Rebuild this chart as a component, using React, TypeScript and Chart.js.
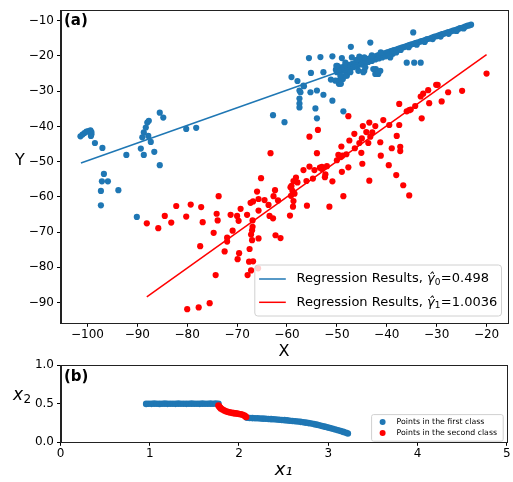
import React, { useEffect, useRef } from 'react';
import { Chart, registerables } from 'chart.js';

Chart.register(...registerables);

const FONT = "'DejaVu Sans', sans-serif";
const BLUE = '#1f77b4';
const RED = '#ff0000';

// ---------- Panel (a) data ----------
const blueScatter: [number, number][] = [
  [-101.4, -42.8], [-101.0, -42.3], [-100.6, -41.9], [-100.2, -41.5], [-99.8, -41.3], [-99.4, -41.1],
  [-99.2, -41.6], [-99.2, -42.2], [-99.3, -42.7], [-98.5, -44.7], [-97.0, -46.1], [-92.2, -48.1],
  [-89.3, -46.3], [-88.7, -48.1], [-89.0, -43.1], [-88.7, -41.7], [-88.3, -40.3], [-88.0, -38.9],
  [-87.7, -38.4], [-87.8, -42.7], [-87.3, -44.4], [-86.6, -47.2], [-85.5, -51.0], [-85.5, -36.1],
  [-84.8, -37.5], [-80.2, -40.7], [-78.2, -40.4], [-96.7, -53.5], [-97.1, -55.6], [-95.9, -55.6],
  [-97.3, -58.3], [-93.8, -58.1], [-97.3, -62.4], [-90.1, -65.7], [-62.8, -36.8], [-60.5, -38.8],
  [-59.1, -26.0], [-57.9, -27.1], [-56.6, -28.6], [-57.5, -29.8], [-57.3, -30.3], [-57.5, -32.1],
  [-57.5, -33.5], [-57.5, -34.6], [-55.3, -30.3], [-54.0, -29.8], [-52.7, -31.0], [-50.9, -32.7],
  [-54.3, -34.9], [-54.0, -37.7], [-48.7, -35.7], [-55.6, -20.6], [-53.3, -20.3], [-50.9, -20.1],
  [-55.2, -24.8], [-52.7, -24.6], [-47.2, -17.4], [-49.6, -27.9], [-51.2, -26.7], [-48.8, -26.5],
  [-48.0, -25.6], [-49.0, -20.6], [-47.3, -23.2], [-49.9, -22.8], [-48.0, -24.2], [-46.0, -22.8],
  [-44.7, -22.1], [-44.5, -24.2], [-42.2, -23.7], [-41.7, -25.1], [-42.3, -25.1], [-49.5, -24.6],
  [-49.7, -27.0], [-49.2, -27.9], [-48.3, -25.6], [-47.0, -20.4], [-45.5, -20.2], [-50.1, -22.8],
  [-48.3, -21.9], [-46.7, -23.2], [-45.7, -24.2], [-47.3, -24.6], [-49.3, -25.6], [-50.3, -27.0],
  [-43.3, -16.2], [-34.7, -13.3], [-36.0, -21.9], [-34.5, -21.9], [-33.2, -21.9], [-44.7, -24.6],
  [-44.3, -23.2], [-45.0, -22.3], [-42.7, -23.7], [-41.7, -24.6], [-41.3, -24.2], [-39.3, -20.4],
  [-56.7, -28.4],
];

const blueBand: [number, number][] = [
  [-50.2, -23.9], [-49.8, -23.5], [-49.5, -23.7], [-49.1, -23.2], [-48.7, -23.3], [-48.4, -22.8],
  [-48.0, -22.9], [-47.6, -22.5], [-47.3, -22.6], [-46.9, -22.2], [-46.5, -22.2], [-46.2, -21.8],
  [-45.8, -21.9], [-45.4, -21.5], [-45.1, -21.5], [-44.7, -21.2], [-44.3, -21.1], [-44.0, -20.8],
  [-43.6, -20.8], [-43.2, -20.5], [-42.9, -20.4], [-42.5, -20.2], [-42.1, -20.1], [-41.8, -19.8],
  [-41.4, -19.7], [-41.0, -19.5], [-40.7, -19.4], [-40.3, -19.2], [-39.9, -19.0], [-39.6, -18.9],
  [-39.2, -18.6], [-38.8, -18.5], [-38.5, -18.3], [-38.1, -18.2], [-37.7, -18.0], [-37.4, -17.8],
  [-37.0, -17.6], [-36.6, -17.5], [-36.3, -17.3], [-35.9, -17.1], [-35.5, -16.9], [-35.2, -16.8],
  [-34.8, -16.6], [-34.4, -16.4], [-34.1, -16.3], [-33.7, -16.1], [-33.3, -15.9], [-33.0, -15.8],
  [-32.6, -15.6], [-32.2, -15.4], [-31.9, -15.2], [-31.5, -15.1], [-31.1, -14.9], [-30.8, -14.7],
  [-30.4, -14.5], [-30.0, -14.4], [-29.7, -14.2], [-29.3, -14.0], [-28.9, -13.8], [-28.6, -13.7],
  [-28.2, -13.5], [-27.8, -13.3], [-27.5, -13.2], [-27.1, -13.0], [-26.7, -12.8], [-26.4, -12.7],
  [-26.0, -12.5], [-25.6, -12.3], [-25.3, -12.1], [-24.9, -12.0], [-24.5, -11.8], [-24.2, -11.6],
  [-23.8, -11.4], [-23.4, -11.3], [-23.1, -11.1],
  [-50.0, -24.6], [-49.3, -24.4], [-48.6, -24.0], [-47.9, -23.7], [-47.2, -23.4], [-46.5, -23.0],
  [-45.8, -22.6], [-45.1, -22.4], [-44.4, -22.0], [-43.7, -21.7], [-43.0, -21.4], [-42.3, -21.0],
  [-41.6, -20.7], [-40.9, -20.4], [-40.2, -20.1], [-39.5, -19.7], [-38.8, -19.4], [-38.1, -19.0],
  [-46.0, -21.1], [-44.5, -20.4], [-43.0, -19.8], [-41.2, -19.0],
  [-37.2, -18.3], [-35.6, -17.5], [-34.0, -16.8], [-32.4, -16.0], [-30.8, -15.2], [-29.2, -14.5],
  [-27.6, -13.7], [-26.0, -12.9], [-24.6, -12.2],
];

const redScatter: [number, number][] = [
  [-88.1, -67.5], [-85.8, -68.9], [-84.5, -65.4], [-83.2, -67.3], [-82.2, -62.6], [-80.2, -65.6],
  [-79.3, -62.2], [-77.2, -62.9], [-76.9, -67.2], [-77.4, -74.0], [-80.0, -91.9], [-77.7, -91.4],
  [-75.5, -90.2], [-74.3, -82.2], [-74.7, -70.2], [-74.1, -64.8], [-73.7, -59.8], [-73.9, -66.7],
  [-72.5, -75.5], [-72.0, -72.7], [-72.0, -71.6], [-71.3, -65.1], [-70.9, -69.6], [-70.0, -65.4],
  [-69.7, -66.8], [-69.3, -63.4], [-69.9, -77.7], [-69.6, -76.0], [-67.9, -82.2], [-68.0, -65.1],
  [-67.6, -78.4], [-67.5, -74.8], [-67.2, -80.9], [-66.8, -78.3], [-67.3, -61.7], [-66.8, -61.3],
  [-67.2, -70.7], [-67.0, -72.3], [-66.9, -68.5], [-66.9, -66.7], [-66.0, -58.5], [-65.7, -60.6],
  [-65.7, -63.9], [-65.7, -71.8], [-65.2, -54.7], [-65.8, -80.3], [-67.0, -69.5], [-63.3, -47.6],
  [-63.7, -62.3], [-63.5, -65.4], [-62.8, -66.1], [-62.7, -59.8], [-62.4, -58.1], [-61.8, -61.0],
  [-62.3, -70.9], [-61.3, -71.7], [-64.5, -60.9], [-59.4, -65.3], [-59.3, -57.3], [-58.9, -58.3],
  [-58.7, -61.2], [-58.8, -62.8], [-58.2, -54.5], [-57.9, -55.9], [-58.5, -59.1], [-58.7, -55.5],
  [-59.1, -56.9], [-59.2, -59.7], [-56.0, -62.5], [-56.1, -55.5], [-54.8, -54.8], [-56.7, -52.4],
  [-55.5, -51.4], [-54.5, -52.4], [-53.4, -51.7], [-53.0, -51.5], [-52.0, -51.3], [-53.0, -52.1],
  [-52.4, -54.4], [-52.3, -53.6], [-50.9, -55.6], [-51.5, -62.8], [-48.7, -59.8], [-43.5, -55.4],
  [-49.0, -52.9], [-47.7, -51.6], [-44.9, -50.6], [-39.6, -51.0], [-38.1, -53.8], [-36.7, -56.7],
  [-35.5, -59.6], [-50.0, -49.6], [-49.7, -48.1], [-49.2, -48.7], [-48.9, -48.3], [-48.1, -47.9],
  [-46.4, -46.2], [-45.1, -47.5], [-49.1, -45.7], [-47.5, -44.0], [-45.5, -44.7], [-45.0, -43.4],
  [-46.5, -42.1], [-44.1, -41.6], [-42.9, -41.7], [-43.3, -42.9], [-43.7, -44.7], [-41.3, -44.5],
  [-41.2, -48.3], [-39.0, -46.2], [-37.3, -45.8], [-37.3, -47.0], [-38.0, -42.7], [-44.8, -39.9],
  [-43.5, -38.9], [-42.3, -39.9], [-40.7, -38.2], [-39.5, -39.6], [-37.5, -39.6], [-37.5, -33.6],
  [-36.0, -35.7], [-35.5, -35.4], [-35.2, -35.2], [-34.3, -34.2], [-33.0, -37.7], [-33.2, -31.5],
  [-32.7, -30.7], [-31.7, -29.7], [-31.5, -33.4], [-30.1, -28.2], [-29.8, -28.2], [-29.0, -32.9],
  [-27.7, -30.3], [-24.9, -29.9], [-20.0, -25.0], [-47.7, -37.1], [-53.8, -41.0], [-55.5, -42.9],
  [-54.0, -47.6],
];

const blueLine: [number, number][] = [[-101.3, -50.4], [-23.1, -11.2]];
const redLine: [number, number][] = [[-88.1, -88.4], [-20.0, -19.6]];
const regressionSubscripts = ['0', '1'];
const regressionValues = ['0.498', '1.0036'];

const xTicksA = [-100, -90, -80, -70, -60, -50, -40, -30, -20];
const yTicksA = [-90, -80, -70, -60, -50, -40, -30, -20, -10];

// ---------- Panel (b) data ----------
const firstClassX = [
  0.96, 0.99, 1.02, 1.05, 1.08, 1.11, 1.14, 1.17, 1.20, 1.23, 1.26, 1.29, 1.32, 1.35, 1.38, 1.41,
  1.44, 1.47, 1.50, 1.53, 1.56, 1.59, 1.62, 1.65, 1.68, 1.71, 1.74, 1.77,
  2.09, 2.12, 2.15, 2.18, 2.21, 2.24, 2.27, 2.30, 2.33, 2.36, 2.39, 2.42, 2.45, 2.48, 2.51, 2.54,
  2.57, 2.60, 2.63, 2.66, 2.69, 2.72, 2.75, 2.78, 2.81, 2.84, 2.87, 2.90, 2.93, 2.96, 2.99, 3.02,
  3.05, 3.08, 3.11, 3.14, 3.17, 3.20, 3.22,
];
const firstClassY = [
  0.498, 0.500, 0.499, 0.501, 0.500, 0.498, 0.500, 0.501, 0.499, 0.500, 0.500, 0.499, 0.501, 0.500,
  0.500, 0.499, 0.500, 0.501, 0.500, 0.500, 0.499, 0.501, 0.500, 0.500, 0.501, 0.500, 0.502, 0.500,
  0.318, 0.316, 0.314, 0.312, 0.311, 0.309, 0.307, 0.305, 0.303, 0.300, 0.298, 0.296, 0.293, 0.290,
  0.287, 0.284, 0.280, 0.277, 0.273, 0.269, 0.265, 0.260, 0.255, 0.249, 0.243, 0.236, 0.229, 0.221,
  0.212, 0.203, 0.194, 0.185, 0.176, 0.166, 0.156, 0.146, 0.135, 0.124, 0.115,
];
const secondClassX = [
  1.77, 1.78, 1.79, 1.80, 1.82, 1.84, 1.86, 1.88, 1.90, 1.92, 1.94, 1.96, 1.98, 2.00, 2.02, 2.04,
  2.06, 2.07, 2.08,
];
const secondClassY = [
  0.478, 0.462, 0.448, 0.436, 0.422, 0.410, 0.400, 0.393, 0.387, 0.382, 0.378, 0.375, 0.372, 0.368,
  0.364, 0.358, 0.348, 0.338, 0.328,
];
const legendLabelsB = ['Points in the first class', 'Points in the second class'];

const minusFmt = (v: number | string) => String(v).replace('-', '\u2212');

const tickFont = { family: FONT, size: 12 };

function frame(ctx: CanvasRenderingContext2D, ca: any) {
  ctx.save();
  ctx.strokeStyle = '#222';
  ctx.lineWidth = 1;
  ctx.strokeRect(Math.round(ca.left) + 0.5, Math.round(ca.top) + 0.5,
    Math.round(ca.right) - Math.round(ca.left), Math.round(ca.bottom) - Math.round(ca.top));
  ctx.restore();
}

function roundBox(ctx: CanvasRenderingContext2D, x: number, y: number, w: number, h: number, r: number) {
  ctx.beginPath();
  ctx.moveTo(x + r, y);
  ctx.lineTo(x + w - r, y);
  ctx.quadraticCurveTo(x + w, y, x + w, y + r);
  ctx.lineTo(x + w, y + h - r);
  ctx.quadraticCurveTo(x + w, y + h, x + w - r, y + h);
  ctx.lineTo(x + r, y + h);
  ctx.quadraticCurveTo(x, y + h, x, y + h - r);
  ctx.lineTo(x, y + r);
  ctx.quadraticCurveTo(x, y, x + r, y);
  ctx.closePath();
  ctx.fillStyle = 'rgba(255,255,255,0.8)';
  ctx.fill();
  ctx.strokeStyle = '#d0d0d0';
  ctx.lineWidth = 1;
  ctx.stroke();
}

const panelAPlugin = {
  id: 'panelA',
  afterDraw(chart: any) {
    const { ctx, chartArea: ca } = chart;
    frame(ctx, ca);
    ctx.save();
    ctx.fillStyle = '#000';
    ctx.font = `bold 15px ${FONT}`;
    ctx.textAlign = 'left';
    ctx.textBaseline = 'middle';
    ctx.fillText('(a)', ca.left + 3.5, ca.top + 11);
    ctx.font = `16px ${FONT}`;
    ctx.textAlign = 'center';
    ctx.textBaseline = 'alphabetic';
    ctx.fillText('Y', ca.left - 40.5, (ca.top + ca.bottom) / 2 - 2);

    // legend
    const w = 246.7, h = 51;
    const lx = ca.right - 6 - w, ly = ca.bottom - 7.3 - h;
    roundBox(ctx, lx, ly, w, h, 3);
    const colors = [BLUE, RED];
    for (let i = 0; i < 2; i++) {
      const yy = ly + 14 + i * 23.3;
      ctx.strokeStyle = colors[i];
      ctx.lineWidth = 1.5;
      ctx.beginPath();
      ctx.moveTo(lx + 4.3, yy);
      ctx.lineTo(lx + 31, yy);
      ctx.stroke();
      let x = lx + 41.7;
      ctx.fillStyle = '#000';
      ctx.textAlign = 'left';
      ctx.textBaseline = 'middle';
      ctx.font = `13px ${FONT}`;
      const pre = 'Regression Results, ';
      ctx.fillText(pre, x, yy);
      x += ctx.measureText(pre).width;
      ctx.font = `italic 13px ${FONT}`;
      ctx.fillText('\u03B3\u0302', x, yy);
      x += ctx.measureText('\u03B3').width;
      ctx.font = `9px ${FONT}`;
      ctx.fillText(regressionSubscripts[i], x, yy + 3.5);
      x += ctx.measureText(regressionSubscripts[i]).width + 0.5;
      ctx.font = `13px ${FONT}`;
      ctx.fillText('=' + regressionValues[i], x, yy);
    }
    ctx.restore();
  },
};

const panelBPlugin = {
  id: 'panelB',
  afterDraw(chart: any) {
    const { ctx, chartArea: ca } = chart;
    frame(ctx, ca);
    ctx.save();
    ctx.fillStyle = '#000';
    ctx.font = `bold 15px ${FONT}`;
    ctx.textAlign = 'left';
    ctx.textBaseline = 'middle';
    ctx.fillText('(b)', ca.left + 3.5, ca.top + 11.7);
    // y label x2
    ctx.textBaseline = 'alphabetic';
    ctx.font = `italic 17px ${FONT}`;
    const bx = ca.left - 47.5;
    const by = (ca.top + ca.bottom) / 2 - 4;
    ctx.fillText('x', bx, by);
    const xw = ctx.measureText('x').width;
    ctx.font = `12px ${FONT}`;
    ctx.fillText('2', bx + xw + 0.5, by + 3.5);

    // legend
    const w = 131.6, h = 26.6;
    const lx = ca.right - 3.5 - w, ly = ca.top + 49.4;
    roundBox(ctx, lx, ly, w, h, 2);
    const colors = [BLUE, RED];
    for (let i = 0; i < 2; i++) {
      const yy = ly + 7.3 + i * 11;
      ctx.fillStyle = colors[i];
      ctx.beginPath();
      ctx.arc(lx + 11, yy, 3, 0, Math.PI * 2);
      ctx.fill();
      ctx.fillStyle = '#000';
      ctx.font = `7.8px ${FONT}`;
      ctx.textBaseline = 'middle';
      ctx.fillText(legendLabelsB[i], lx + 25, yy);
    }
    ctx.restore();
  },
};

const toPts = (arr: [number, number][]) => arr.map(([x, y]) => ({ x, y }));
const zipPts = (xs: number[], ys: number[]) => xs.map((x, i) => ({ x, y: ys[i] }));

function axisCommon() {
  return {
    grid: { display: true, drawOnChartArea: false, drawTicks: true, tickLength: 3.5, color: '#000', lineWidth: 1 },
    border: { display: true, color: '#222' },
  };
}

export default function App() {
  const refA = useRef<HTMLCanvasElement>(null);
  const refB = useRef<HTMLCanvasElement>(null);

  useEffect(() => {
    const chartA = new Chart(refA.current as HTMLCanvasElement, {
      type: 'scatter',
      data: {
        datasets: [
          { type: 'line', data: toPts(blueLine), borderColor: BLUE, borderWidth: 1.5, pointRadius: 0, showLine: true, fill: false, order: 0 } as any,
          { type: 'line', data: toPts(redLine), borderColor: RED, borderWidth: 1.5, pointRadius: 0, showLine: true, fill: false, order: 0 } as any,
          { data: toPts(redScatter), backgroundColor: RED, borderWidth: 0, pointRadius: 3.1, order: 1 },
          { data: toPts(blueScatter), backgroundColor: BLUE, borderWidth: 0, pointRadius: 3.1, order: 2 },
          { data: toPts(blueBand), backgroundColor: BLUE, borderWidth: 0, pointRadius: 3.1, order: 2 },
        ],
      },
      options: {
        animation: false,
        responsive: false,
        devicePixelRatio: 1,
        layout: { padding: { left: 0, top: 5, right: 5.5, bottom: 0 } },
        plugins: { legend: { display: false }, tooltip: { enabled: false } },
        scales: {
          x: {
            type: 'linear',
            min: -105.4,
            max: -15.8,
            ...axisCommon(),
            afterFit: (s: any) => { s.height = 39.7; },
            afterBuildTicks: (s: any) => { s.ticks = xTicksA.map((v) => ({ value: v })); },
            ticks: { font: tickFont, color: '#000', padding: 0.5, autoSkip: false, maxRotation: 0, callback: (v: any) => minusFmt(v) },
            title: { display: true, text: 'X', font: { family: FONT, size: 16 }, color: '#000', padding: { top: 0, bottom: 1.2 } },
          },
          y: {
            type: 'linear',
            min: -95.9,
            max: -7.0,
            ...axisCommon(),
            afterFit: (s: any) => { s.width = 60.5; },
            afterBuildTicks: (s: any) => { s.ticks = yTicksA.map((v) => ({ value: v })); },
            ticks: { font: tickFont, color: '#000', padding: 3, autoSkip: false, callback: (v: any) => minusFmt(v) },
          },
        },
      } as any,
      plugins: [panelAPlugin],
    });

    const chartB = new Chart(refB.current as HTMLCanvasElement, {
      type: 'scatter',
      data: {
        datasets: [
          { label: legendLabelsB[1], data: zipPts(secondClassX, secondClassY), backgroundColor: RED, borderWidth: 0, pointRadius: 3.3, order: 0 },
          { label: legendLabelsB[0], data: zipPts(firstClassX, firstClassY), backgroundColor: BLUE, borderWidth: 0, pointRadius: 3.3, order: 1 },
        ],
      },
      options: {
        animation: false,
        responsive: false,
        devicePixelRatio: 1,
        layout: { padding: { left: 0, top: 7.3, right: 6.3, bottom: 0 } },
        plugins: { legend: { display: false }, tooltip: { enabled: false } },
        scales: {
          x: {
            type: 'linear',
            min: 0,
            max: 5,
            ...axisCommon(),
            afterFit: (s: any) => { s.height = 39.7; },
            ticks: { font: tickFont, color: '#000', padding: 0.5, stepSize: 1, autoSkip: false, maxRotation: 0 },
            title: { display: true, text: 'x\u2081', font: { family: FONT, size: 18, style: 'italic' }, color: '#000', padding: { top: 0, bottom: 0.9 } },
          },
          y: {
            type: 'linear',
            min: 0,
            max: 1,
            ...axisCommon(),
            afterFit: (s: any) => { s.width = 60.5; },
            ticks: { font: tickFont, color: '#000', padding: 3, stepSize: 0.5, autoSkip: false, callback: (v: any) => Number(v).toFixed(1) },
          },
        },
      } as any,
      plugins: [panelBPlugin],
    });

    return () => {
      chartA.destroy();
      chartB.destroy();
    };
  }, []);

  return (
    <div style={{ position: 'absolute', left: 0, top: 0, width: 513, height: 482, background: '#fff', overflow: 'hidden' }}>
      <canvas ref={refA} width={513} height={363} style={{ position: 'absolute', left: 0, top: 0, width: 513, height: 363 }} />
      <canvas ref={refB} width={513} height={127} style={{ position: 'absolute', left: 0, top: 355, width: 513, height: 127 }} />
    </div>
  );
}
